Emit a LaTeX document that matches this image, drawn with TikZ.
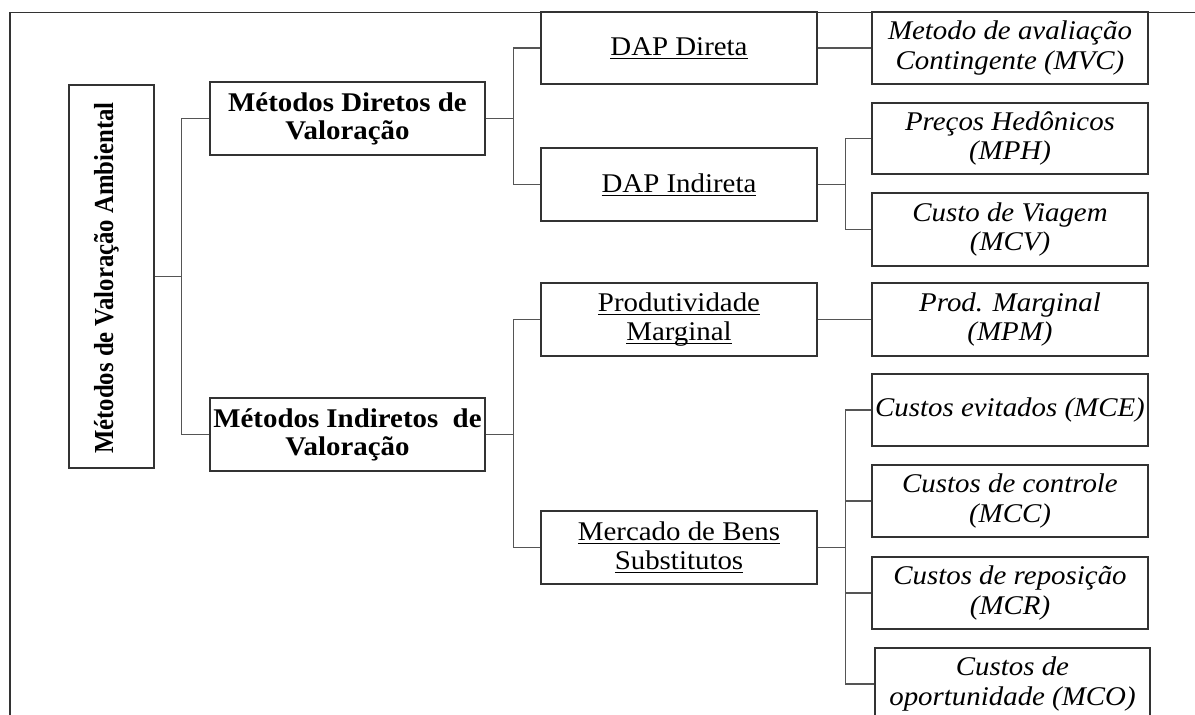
\documentclass[tikz,border=0pt]{standalone}
\usepackage{fontspec}
\setmainfont{Liberation Serif}[FakeStretch=1.07]
\newfontfamily\rotfont{Liberation Serif}[FakeStretch=0.9]
\definecolor{boxline}{HTML}{333333}
\definecolor{conline}{HTML}{555555}
\newcommand\myul[1]{\setbox0\hbox{#1}\rlap{\rule[-3.5pt]{\wd0}{0.9pt}}\box0}
\tikzset{
  box/.style={draw=boxline, line width=1.4pt, rectangle, inner sep=0pt, align=center,
    minimum width=276pt, minimum height=72pt, font=\fontsize{27}{29}\selectfont},
  boldbox/.style={box, minimum width=275pt, minimum height=73pt, font=\fontsize{27}{28}\selectfont\bfseries},
  itbox/.style={box, font=\fontsize{27}{29.5}\selectfont\itshape},
  conn/.style={draw=conline, line width=1.3pt},
  frame/.style={draw=boxline, line width=1.3pt}
}
\begin{document}
\begin{tikzpicture}[x=1pt,y=-1pt]
\useasboundingbox (0,0) rectangle (1195,715);
\clip (0,0) rectangle (1195,715);
\fill[white] (0,0) rectangle (1195,715);
\draw[frame] (10,12.5) rectangle (1210,730);

% level 0
\node[box, minimum width=85pt, minimum height=383pt] (root) at (111.5,276.5) {};
\node[rotate=90, inner sep=0pt, font=\rotfont\fontsize{27.5}{29}\selectfont\bfseries] (roottext) at (106.5,278) {Métodos de Valoração Ambiental};

% level 1
\node[boldbox] (dir) at (347.5,118.5) {Métodos Diretos de\\Valoração};
\node[boldbox] (ind) at (347.5,434.5) {Métodos Indiretos\ \ de\\Valoração};

% level 2
\node[box] (dapd) at (679,48) {\myul{DAP Direta}};
\node[box, minimum height=73pt] (dapi) at (679,184.5) {\myul{DAP Indireta}};
\node[box, minimum height=73pt] (prod) at (679,319.5) {\myul{Produtividade}\\\myul{Marginal}};
\node[box, minimum height=73pt] (merc) at (679,547.5) {\myul{Mercado de Bens}\\\myul{Substitutos}};

% level 3
\node[itbox] (mvc) at (1010,48) {Metodo de avaliação\\Contingente (MVC)};
\node[itbox, minimum height=71pt] (mph) at (1010,138.5) {Preços Hedônicos\\(MPH)};
\node[itbox, minimum height=73pt] (mcv) at (1010,229.5) {Custo de Viagem\\(MCV)};
\node[itbox, minimum height=73pt] (mpm) at (1010,319.5) {Prod. Marginal\\(MPM)};
\node[itbox] (mce) at (1010,410) {Custos evitados (MCE)};
\node[itbox] (mcc) at (1010,501) {Custos de controle\\(MCC)};
\node[itbox] (mcr) at (1010,593) {Custos de reposição\\(MCR)};
\node[itbox, minimum width=275pt] (mco) at (1012.5,684) {Custos de\\oportunidade (MCO)};

% connectors
\draw[conn] (root.east) -- ++(27,0) |- (dir.west);
\draw[conn] (root.east) -- ++(27,0) |- (ind.west);
\draw[conn] (dir.east) -- ++(28,0) |- (dapd.west);
\draw[conn] (dir.east) -- ++(28,0) |- (dapi.west);
\draw[conn] (ind.east) -- ++(28,0) |- (prod.west);
\draw[conn] (ind.east) -- ++(28,0) |- (merc.west);
\draw[conn] (dapd.east) -- (mvc.west);
\draw[conn] (dapi.east) -- ++(28,0) |- (mph.west);
\draw[conn] (dapi.east) -- ++(28,0) |- (mcv.west);
\draw[conn] (prod.east) -- (mpm.west);
\draw[conn] (merc.east) -- ++(28,0) |- (mce.west);
\draw[conn] (merc.east) -- ++(28,0) |- (mcc.west);
\draw[conn] (merc.east) -- ++(28,0) |- (mcr.west);
\draw[conn] (merc.east) -- ++(28,0) |- (mco.west);
\end{tikzpicture}
\end{document}
